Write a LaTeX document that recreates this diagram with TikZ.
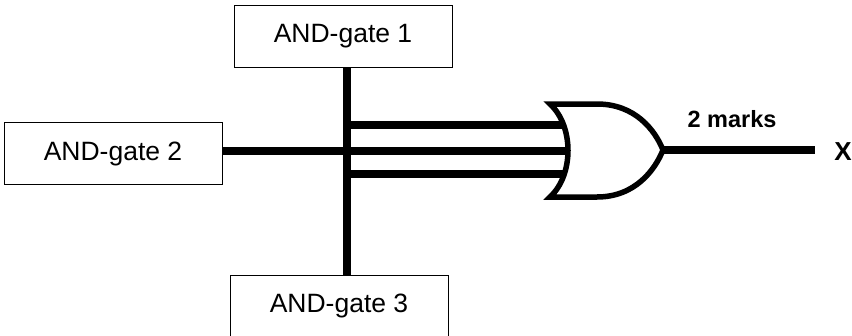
\documentclass[tikz,border=0pt]{standalone}
\usepackage{fontspec}
\setmainfont{Liberation Sans}
\usetikzlibrary{calc}
\begin{document}
\begin{tikzpicture}[x=1pt,y=-1pt,
                    gatebox/.style={draw,line width=1pt,minimum width=218pt,minimum height=62pt,inner sep=0pt,font=\fontsize{26.5}{30}\selectfont},
                    wire/.style={line width=8pt},
                    marktext/.style={font=\bfseries\fontsize{23.5}{28}\selectfont}]
                    \useasboundingbox (0,0) rectangle (852,335);

                    % the three AND-gates
                    \node[gatebox] (and1) at (343,36.5) {AND-gate 1};
                    \node[gatebox] (and2) at (113,153.5) {AND-gate 2};
                    \node[gatebox] (and3) at (339,306) {AND-gate 3};

                    % junction and OR-gate inputs
                    \coordinate (jx) at (347,0);
                    \coordinate (in1) at (566,125);
                    \coordinate (in2) at (568,151);
                    \coordinate (in3) at (566,174);
                    \coordinate (orout) at (663,150);
                    \coordinate (xend) at (815,150);

                    \draw[wire] (and1.south -| jx) -- (and3.north -| jx);
                    \draw[wire] (in1 -| jx) -- (in1);
                    \draw[wire] (and2.east |- in2) -- (in2);
                    \draw[wire] (in3 -| jx) -- (in3);

                    % OR-gate
                    \draw[line width=5.5pt,fill=white] (550,104) -- (597,104)
                        .. controls (635,104) and (655,130) .. (orout)
                        .. controls (655,170) and (635,197) .. (597,197) -- (550,197)
                        .. controls (574,175) and (574,126) .. (550,104) -- cycle;

                    \draw[wire] (orout) -- (xend);
                    \node[marktext] (marks) at (732,119) {2 marks};
                    \node[marktext,font=\bfseries\fontsize{26}{30}\selectfont] (x) at (843,152) {X};
                \end{tikzpicture}
\end{document}
